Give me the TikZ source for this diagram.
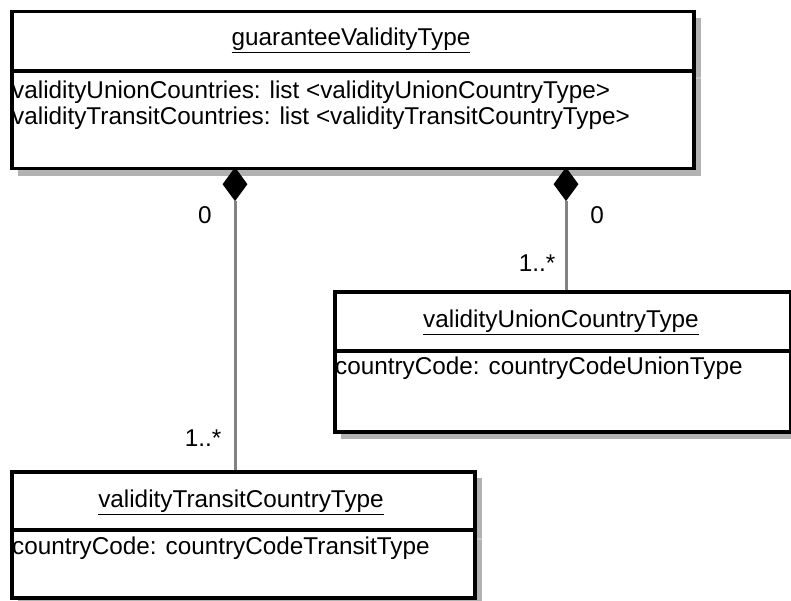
\documentclass[tikz,border=0pt]{standalone}
\usepackage{fontspec}
\setmainfont{Liberation Sans}
\usetikzlibrary{shapes.geometric}
\definecolor{shadowgray}{RGB}{178,178,178}
\definecolor{shadowline}{RGB}{200,200,200}
\definecolor{conngray}{RGB}{130,130,130}
\begin{document}
\begin{tikzpicture}[x=1pt,y=-1pt,
  every node/.style={font=\fontsize{24.3}{28}\selectfont, inner sep=0pt},
  umlbox/.style={draw=black, line width=3.5pt, fill=white, anchor=north west, inner sep=0pt},
  boxshadow/.style={fill=shadowgray},
  divline/.style={draw=black, line width=3.5pt},
  divshadow/.style={draw=shadowline, line width=1.5pt},
  comp/.style={diamond, fill=black, draw=none, minimum width=25pt, minimum height=34pt, inner sep=0pt, anchor=north},
  conn/.style={draw=conngray, line width=3pt},
  title/.style={anchor=center},
  attr/.style={anchor=west},
  mult/.style={anchor=center}
]
\useasboundingbox (0,0) rectangle (791,601);
% ---------- top class ----------
\fill[boxshadow] (18,18) rectangle (701,176);
\draw[divshadow] (692,78) -- (701,78);
\node[umlbox, minimum width=682pt, minimum height=157pt] (top) at (10,10) {};
\draw[divline] (top.west |- 0,71) -- (top.east |- 0,71);
\node[title] (toptitle) at (351,40) {\underline{guaranteeValidityType}};
\node[attr] (topattr1) at (12,92) {validityUnionCountries: list <validityUnionCountryType>};
\node[attr] (topattr2) at (12,118) {validityTransitCountries: list <validityTransitCountryType>};
% ---------- union class ----------
\fill[boxshadow] (341,298) rectangle (791,439);
\node[umlbox, minimum width=456pt, minimum height=140pt] (union) at (333,290) {};
\draw[divline] (union.west |- 0,351) -- (union.east |- 0,351);
\node[title] (uniontitle) at (561,322) {\underline{validityUnionCountryType}};
\node[attr] (unionattr) at (335,368) {countryCode: countryCodeUnionType};
% ---------- transit class ----------
\fill[boxshadow] (18,478) rectangle (482,605);
\draw[divshadow] (473,539) -- (482,539);
\node[umlbox, minimum width=463pt, minimum height=126pt] (trans) at (10,470) {};
\draw[divline] (trans.west |- 0,530) -- (trans.east |- 0,530);
\node[title] (transtitle) at (241,502) {\underline{validityTransitCountryType}};
\node[attr] (transattr) at (12,548) {countryCode: countryCodeTransitType};
% ---------- compositions ----------
\node[comp] (d1) at (235,167) {};
\node[comp] (d2) at (566,167) {};
\draw[conn] (d1.south) -- (d1.south |- trans.north);
\draw[conn] (d2.south) -- (d2.south |- union.north);
\node[mult] (m1a) at (205,215) {0};
\node[mult] (m1b) at (203,438) {1..*};
\node[mult] (m2a) at (597,215) {0};
\node[mult] (m2b) at (537,263) {1..*};
\end{tikzpicture}
\end{document}
